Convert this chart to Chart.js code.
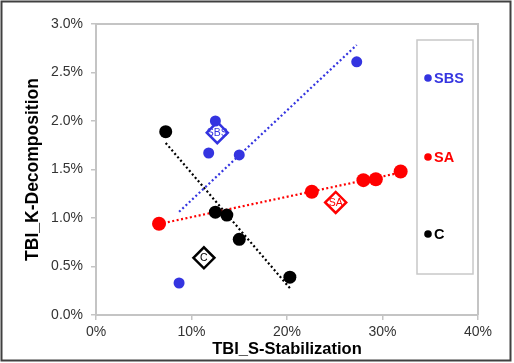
<!DOCTYPE html>
<html>
<head>
<meta charset="utf-8">
<script src="https://cdn.jsdelivr.net/npm/chart.js@4.4.0/dist/chart.umd.min.js"></script>
<style>
  body { margin: 0; background: #fff; }
</style>
</head>
<body>
<canvas id="chart" width="514" height="363"></canvas>
<script>
// values, in percent
const seriesNames = ["SBS", "SA", "C"];
const sbsX = [12.5, 11.8, 15.0, 27.3, 8.7];
const sbsY = [2.00, 1.67, 1.65, 2.61, 0.33];
const saX = [6.6, 22.6, 28.0, 29.3, 31.9];
const saY = [0.94, 1.27, 1.39, 1.40, 1.48];
const cX = [7.3, 12.5, 13.7, 15.0, 20.3];
const cY = [1.89, 1.06, 1.03, 0.78, 0.39];
const centerX = [12.7, 25.1, 11.3];
const centerY = [1.88, 1.16, 0.59];

const colors = ["#3434e0", "#ff0000", "#000000"];
const FONT = "'Liberation Sans', Arial, sans-serif";
Chart.defaults.font.family = FONT;

const pts = (xs, ys) => xs.map((x, i) => ({ x: x, y: ys[i] }));

// least squares trend line over the range of the series
function trend(xs, ys) {
    const n = xs.length;
    const mx = xs.reduce((a, b) => a + b, 0) / n;
    const my = ys.reduce((a, b) => a + b, 0) / n;
    let sxy = 0, sxx = 0;
    xs.forEach((x, i) => { sxy += (x - mx) * (ys[i] - my); sxx += (x - mx) * (x - mx); });
    const k = sxy / sxx;
    const x0 = Math.min(...xs), x1 = Math.max(...xs);
    return [{ x: x0, y: my + k * (x0 - mx) }, { x: x1, y: my + k * (x1 - mx) }];
}

const groups = [[sbsX, sbsY], [saX, saY], [cX, cY]];
const radii = [5.5, 7, 6.5];

const pointSets = groups.map((g, i) => ({
    label: seriesNames[i],
    data: pts(g[0], g[1]),
    backgroundColor: colors[i],
    borderColor: colors[i],
    pointRadius: radii[i],
    borderWidth: 0
}));

const centerSet = {
    label: "centers",
    data: pts(centerX, centerY),
    pointStyle: "rectRot",
    pointRadius: 10.5,
    backgroundColor: "#fff",
    borderColor: colors,
    borderWidth: 2.5
};

const trendSets = groups.map((g, i) => ({
    label: seriesNames[i] + " trend",
    data: trend(g[0], g[1]),
    showLine: true,
    borderColor: colors[i],
    borderWidth: 2.2,
    borderDash: [2, 2.5],
    pointRadius: 0
}));

const frame = {
    id: "frame",
    beforeDraw(chart) {
        const c = chart.ctx;
        c.save();
        c.fillStyle = "#fff";
        c.fillRect(0, 0, chart.width, chart.height);
        c.restore();
    },
    beforeDatasetsDraw(chart) {
        const c = chart.ctx, a = chart.chartArea;
        c.save();
        c.strokeStyle = "#c4c4c4";
        c.lineWidth = 2;
        c.beginPath();
        c.moveTo(a.left, a.top);
        c.lineTo(a.right, a.top);
        c.lineTo(a.right, a.bottom);
        c.stroke();
        c.restore();
    },
    afterDatasetsDraw(chart) {
        const c = chart.ctx;
        const meta = chart.getDatasetMeta(3);
        c.save();
        c.font = "10.5px " + FONT;
        c.textAlign = "center";
        c.textBaseline = "middle";
        meta.data.forEach((p, i) => {
            c.fillStyle = colors[i];
            c.fillText(seriesNames[i], p.x, p.y + 0.5);
        });
        c.restore();
    },
    afterDraw(chart) {
        const c = chart.ctx;
        c.save();
        // legend box
        c.strokeStyle = "#c8c8c8";
        c.lineWidth = 1.5;
        c.strokeRect(417, 40, 56, 234);
        const rows = [78, 157, 234];
        c.font = "bold 14.5px " + FONT;
        c.textBaseline = "middle";
        seriesNames.forEach((name, i) => {
            c.fillStyle = colors[i];
            c.beginPath();
            c.arc(428, rows[i], 3.8, 0, Math.PI * 2);
            c.fill();
            c.fillText(name, 434, rows[i] + 1);
        });
        // outer border
        c.strokeStyle = "#404040";
        c.lineWidth = 2;
        c.strokeRect(1.5, 1.5, 509, 359);
        c.restore();
    }
};

const tickGrid = { display: true, drawOnChartArea: false, drawTicks: true, tickLength: 5, color: "#c4c4c4", lineWidth: 1.5 };
const axisBorder = { display: true, color: "#c4c4c4", width: 2 };

new Chart(document.getElementById("chart").getContext("2d"), {
    type: "scatter",
    data: { datasets: [...pointSets, centerSet, ...trendSets] },
    plugins: [frame],
    options: {
        responsive: false,
        animation: false,
        devicePixelRatio: 1,
        layout: { padding: { left: 0, top: 24, right: 36, bottom: 0 } },
        plugins: { legend: { display: false }, tooltip: { enabled: false } },
        scales: {
            x: {
                type: "linear",
                min: 0, max: 40,
                ticks: { stepSize: 10, color: "#333", font: { size: 14 }, padding: 4, callback: v => v + "%" },
                grid: tickGrid,
                border: axisBorder,
                title: { display: true, text: "TBI_S-Stabilization", color: "#000", font: { size: 16.5, weight: "bold" }, padding: { top: 0, bottom: 4 } },
                afterFit: s => { s.height = 48; }
            },
            y: {
                type: "linear",
                min: 0, max: 3,
                ticks: { stepSize: 0.5, color: "#333", font: { size: 14 }, padding: 8, callback: v => v.toFixed(1) + "%" },
                grid: tickGrid,
                border: axisBorder,
                title: { display: true, text: "TBI_K-Decomposition", color: "#000", font: { size: 17.5, weight: "bold" }, padding: { top: 23, bottom: 0 } },
                afterFit: s => { s.width = 96; }
            }
        }
    }
});
</script>
</body>
</html>
